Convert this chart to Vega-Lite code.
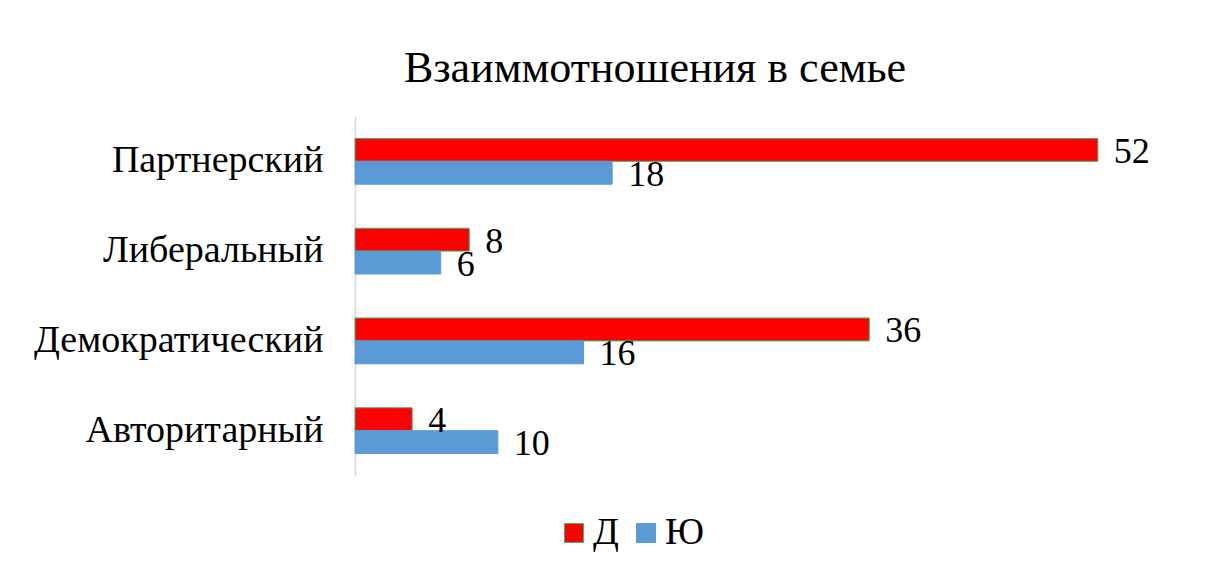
{
  "$schema": "https://vega.github.io/schema/vega-lite/v6.json",
  "autosize": "none",
  "width": 800,
  "height": 360,
  "padding": {"left": 355, "top": 116, "right": 72, "bottom": 93},
  "background": "white",
  "title": {
    "text": "Взаиммотношения в семье",
    "font": "Liberation Serif",
    "fontSize": 44,
    "fontWeight": "normal",
    "color": "#000000",
    "anchor": "middle",
    "frame": "group",
    "dx": -100,
    "offset": 25
  },
  "config": {"view": {"stroke": null}},
  "data": {
    "values": [
      {"style": "Партнерский", "group": "Д", "value": 52},
      {"style": "Партнерский", "group": "Ю", "value": 18},
      {"style": "Либеральный", "group": "Д", "value": 8},
      {"style": "Либеральный", "group": "Ю", "value": 6},
      {"style": "Демократический", "group": "Д", "value": 36},
      {"style": "Демократический", "group": "Ю", "value": 16},
      {"style": "Авторитарный", "group": "Д", "value": 4},
      {"style": "Авторитарный", "group": "Ю", "value": 10}
    ]
  },
  "encoding": {
    "y": {
      "field": "style",
      "type": "nominal",
      "sort": ["Партнерский", "Либеральный", "Демократический", "Авторитарный"],
      "scale": {"paddingInner": 0.49, "paddingOuter": 0.25},
      "axis": {
        "title": null,
        "ticks": false,
        "domainColor": "#d9d9d9",
        "domainWidth": 1.5,
        "labelFont": "Liberation Serif",
        "labelFontSize": 38,
        "labelColor": "#000000",
        "labelPadding": 32,
        "labelLimit": 400
      }
    },
    "yOffset": {"field": "group", "type": "nominal", "sort": ["Д", "Ю"]},
    "x": {
      "field": "value",
      "type": "quantitative",
      "scale": {"domain": [0, 56], "nice": false},
      "axis": null
    }
  },
  "layer": [
    {
      "mark": {"type": "bar", "strokeWidth": 1},
      "encoding": {
        "color": {
          "field": "group",
          "type": "nominal",
          "sort": ["Д", "Ю"],
          "scale": {"domain": ["Д", "Ю"], "range": ["#ff0000", "#5b9bd5"]},
          "legend": {
            "title": null,
            "orient": "none",
            "direction": "horizontal",
            "legendX": 200,
            "legendY": 398,
            "symbolType": "square",
            "symbolSize": 361,
            "symbolOpacity": 1,
            "symbolStrokeWidth": 1,
            "labelFont": "Liberation Serif",
            "labelFontSize": 38,
            "labelColor": "#000000",
            "columnPadding": 8,
            "labelOffset": 0
          }
        },
        "stroke": {
          "field": "group",
          "type": "nominal",
          "scale": {"domain": ["Д", "Ю"], "range": ["#3cb371", "#5b9bd5"]},
          "legend": null
        }
      }
    },
    {
      "mark": {
        "type": "text",
        "align": "left",
        "baseline": "middle",
        "dx": 16,
        "dy": 2,
        "font": "Liberation Serif",
        "fontSize": 36,
        "color": "#000000"
      },
      "encoding": {"text": {"field": "value", "type": "quantitative"}}
    }
  ]
}
